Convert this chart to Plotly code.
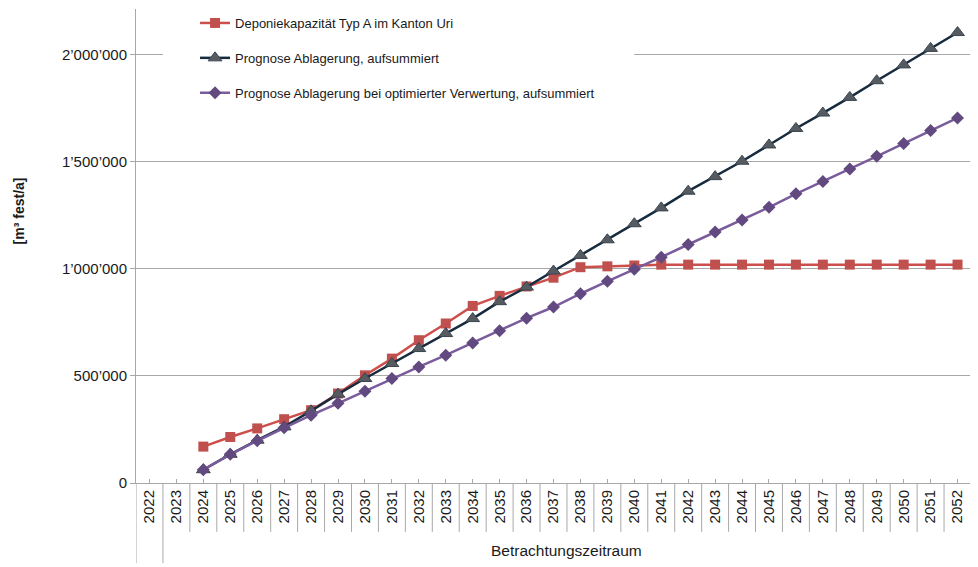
import plotly.graph_objects as go

years = [str(y) for y in range(2022, 2053)]
years_data = [str(y) for y in range(2024, 2053)]

kapazitaet = [170000, 215000, 255000, 298000, 340000, 418000, 503000, 581000, 667000,
              745000, 827000, 874000, 918000, 959000, 1008000, 1012000, 1016000,
              1020000, 1020000, 1020000, 1020000, 1020000, 1020000, 1020000, 1020000,
              1020000, 1020000, 1020000, 1020000]
ablagerung = [62000, 134000, 200000, 262000, 337000, 415000, 488000, 558000, 628000,
              698000, 768000, 847000, 915000, 990000, 1063000, 1136000, 1211000,
              1285000, 1363000, 1431000, 1503000, 1579000, 1656000, 1728000, 1801000,
              1879000, 1953000, 2030000, 2104000]
optimiert = [62000, 134000, 197000, 258000, 317000, 372000, 429000, 488000, 542000,
             597000, 654000, 711000, 770000, 822000, 884000, 942000, 998000,
             1055000, 1114000, 1172000, 1229000, 1288000, 1351000, 1408000, 1467000,
             1526000, 1586000, 1646000, 1705000]

y_tickvals = [0, 500000, 1000000, 1500000, 2000000]
y_ticktext = ["0", "500’000", "1’000’000", "1’500’000", "2’000’000"]

names = ["Deponiekapazität Typ A im Kanton Uri",
         "Prognose Ablagerung, aufsummiert",
         "Prognose Ablagerung bei optimierter Verwertung, aufsummiert"]
group_label = "Betrachtungszeitraum"
y_title = "[m³ fest/a]"

FONT = "Liberation Sans, Arial, Helvetica, sans-serif"
GRID = "#a8a8a8"
TXT = "#1a1a1a"

fig = go.Figure()
fig.add_trace(go.Scatter(
    x=years_data, y=kapazitaet, name=names[0], mode="lines+markers",
    line=dict(color="#cd4f4c", width=2.5),
    marker=dict(symbol="square", size=10, color="#c0504d"),
    legendgroup="a"))
fig.add_trace(go.Scatter(
    x=years_data, y=ablagerung, name=names[1], mode="lines+markers",
    line=dict(color="#172b3e", width=2.5),
    marker=dict(symbol="triangle-up", size=12, color="#555b60",
                line=dict(color="#3a4550", width=1)),
    legendgroup="b"))
fig.add_trace(go.Scatter(
    x=years_data, y=optimiert, name=names[2], mode="lines+markers",
    line=dict(color="#7a5c9c", width=2.5),
    marker=dict(symbol="diamond", size=10, color="#624a80"),
    legendgroup="c"))

shapes = []
# white patch behind the legend hiding the gridline (drawn between grid and traces)
shapes.append(dict(type="rect", xref="x", yref="y", layer="between",
                   x0=0.5, x1=18.0, y0=1900000, y1=2214000,
                   fillcolor="white", line=dict(width=0)))
# dividers between categories
for i in range(len(years) - 1):
    xi = i + 0.5
    y0 = -0.169 if i == 0 else -0.103
    shapes.append(dict(type="line", xref="x", yref="paper", x0=xi, x1=xi,
                       y0=0, y1=y0, line=dict(color=GRID, width=1)))
for xi in (-0.5, len(years) - 0.5):
    shapes.append(dict(type="line", xref="x", yref="paper", x0=xi, x1=xi,
                       y0=0, y1=-0.169, line=dict(color=GRID, width=1)))

fig.update_layout(
    width=978, height=567,
    margin=dict(l=128, r=15, t=0, b=92),
    paper_bgcolor="white", plot_bgcolor="white",
    font=dict(family=FONT, color=TXT),
    showlegend=True,
    legend=dict(x=0.0707, y=1.003, xanchor="left", yanchor="top",
                bgcolor="rgba(0,0,0,0)", font=dict(size=13, family=FONT, color=TXT),
                tracegroupgap=15, itemwidth=30),
    xaxis=dict(type="category", categoryorder="array", categoryarray=years,
               tickvals=years, ticktext=years,
               range=[-0.5, len(years) - 0.5],
               showgrid=False, showline=True, linecolor=GRID, linewidth=1,
               ticks="inside", ticklen=4, tickcolor=GRID,
               tickangle=-90, tickfont=dict(size=15, family=FONT, color=TXT),
               zeroline=False),
    yaxis=dict(range=[0, 2214000], tickvals=y_tickvals, ticktext=y_ticktext,
               showgrid=True, gridcolor=GRID, gridwidth=1,
               showline=True, linecolor=GRID, linewidth=1,
               ticks="outside", ticklen=5, tickcolor=GRID,
               tickfont=dict(size=15, family=FONT, color=TXT),
               zeroline=False),
    shapes=shapes,
    annotations=[
        dict(text=group_label, xref="x", yref="paper", x=15.5, y=-0.143,
             showarrow=False, font=dict(size=15.5, family=FONT, color=TXT),
             xanchor="center", yanchor="middle"),
        dict(text="<b>" + y_title + "</b>", xref="paper", yref="paper",
             x=-0.139, y=0.575, textangle=-90, showarrow=False,
             font=dict(size=14, family=FONT, color=TXT),
             xanchor="center", yanchor="middle"),
    ],
)

fig.write_html("out.html")
